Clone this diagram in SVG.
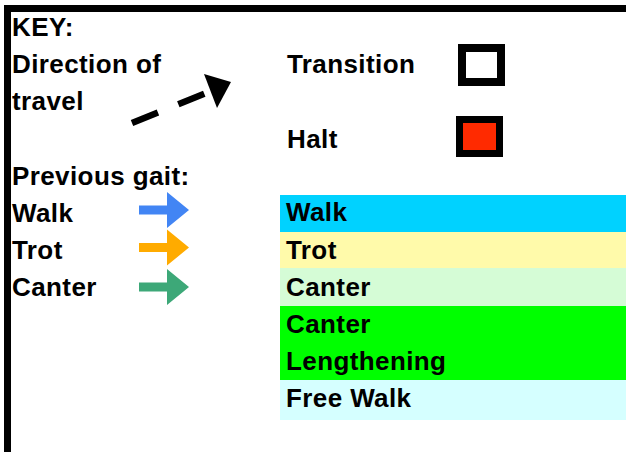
<svg xmlns="http://www.w3.org/2000/svg" width="626" height="452" viewBox="0 0 626 452">
<style>
.t{font-family:"Liberation Sans",Arial,sans-serif;font-weight:bold;font-size:26px;letter-spacing:0.4px;fill:#000}
</style>
<defs>
<path id="garrow" d="M139,-4.5 H167 V-18 L189,0 L167,18 V4.5 H139 Z"/>
</defs>
<rect width="626" height="452" fill="#fff"/>
<g id="frame">
<rect x="4" y="5" width="622" height="7" fill="#000"/>
<rect x="4" y="5" width="7" height="447" fill="#000"/>
</g>
<g id="key-title"><text class="t" x="12" y="36">KEY:</text></g>
<g id="direction">
<text class="t" x="12" y="73">Direction of</text>
<text class="t" x="12" y="110">travel</text>
</g>
<g id="connectors">
<line x1="132" y1="123" x2="212" y2="90.5" stroke="#000" stroke-width="6.5" stroke-dasharray="28,22"/>
<polygon points="231,82 204,74 217,108" fill="#000"/>
</g>
<g id="transition">
<text class="t" x="287" y="73">Transition</text>
<rect x="462" y="48" width="39" height="34" fill="#fff" stroke="#000" stroke-width="8"/>
</g>
<g id="halt">
<text class="t" x="287" y="148">Halt</text>
<rect x="459.5" y="119.5" width="40" height="34" fill="#FF2A00" stroke="#000" stroke-width="7"/>
</g>
<g id="previous-gait">
<text class="t" x="12" y="185">Previous gait:</text>
</g>
<g id="prev-walk">
<text class="t" x="12" y="222">Walk</text>
<use href="#garrow" transform="translate(0,210)" fill="#4285F4"/>
</g>
<g id="prev-trot">
<text class="t" x="12" y="259">Trot</text>
<use href="#garrow" transform="translate(0,247.5)" fill="#FFAB00"/>
</g>
<g id="prev-canter">
<text class="t" x="12" y="296">Canter</text>
<use href="#garrow" transform="translate(0,287)" fill="#3DA878"/>
</g>
<g id="gait-walk">
<rect x="280" y="195" width="346" height="37" fill="#00D2FF"/>
<text class="t" x="286" y="221">Walk</text>
</g>
<g id="gait-trot">
<rect x="280" y="232" width="346" height="36" fill="#FFFAAA"/>
<text class="t" x="286" y="259">Trot</text>
</g>
<g id="gait-canter">
<rect x="280" y="268" width="346" height="38" fill="#D5FCD6"/>
<text class="t" x="286" y="296">Canter</text>
</g>
<g id="gait-canter-lengthening">
<rect x="280" y="306" width="346" height="74" fill="#00FF00"/>
<text class="t" x="286" y="333">Canter</text>
<text class="t" x="286" y="370">Lengthening</text>
</g>
<g id="gait-free-walk">
<rect x="280" y="380" width="346" height="40" fill="#D5FFFF"/>
<text class="t" x="286" y="407">Free Walk</text>
</g>
</svg>
